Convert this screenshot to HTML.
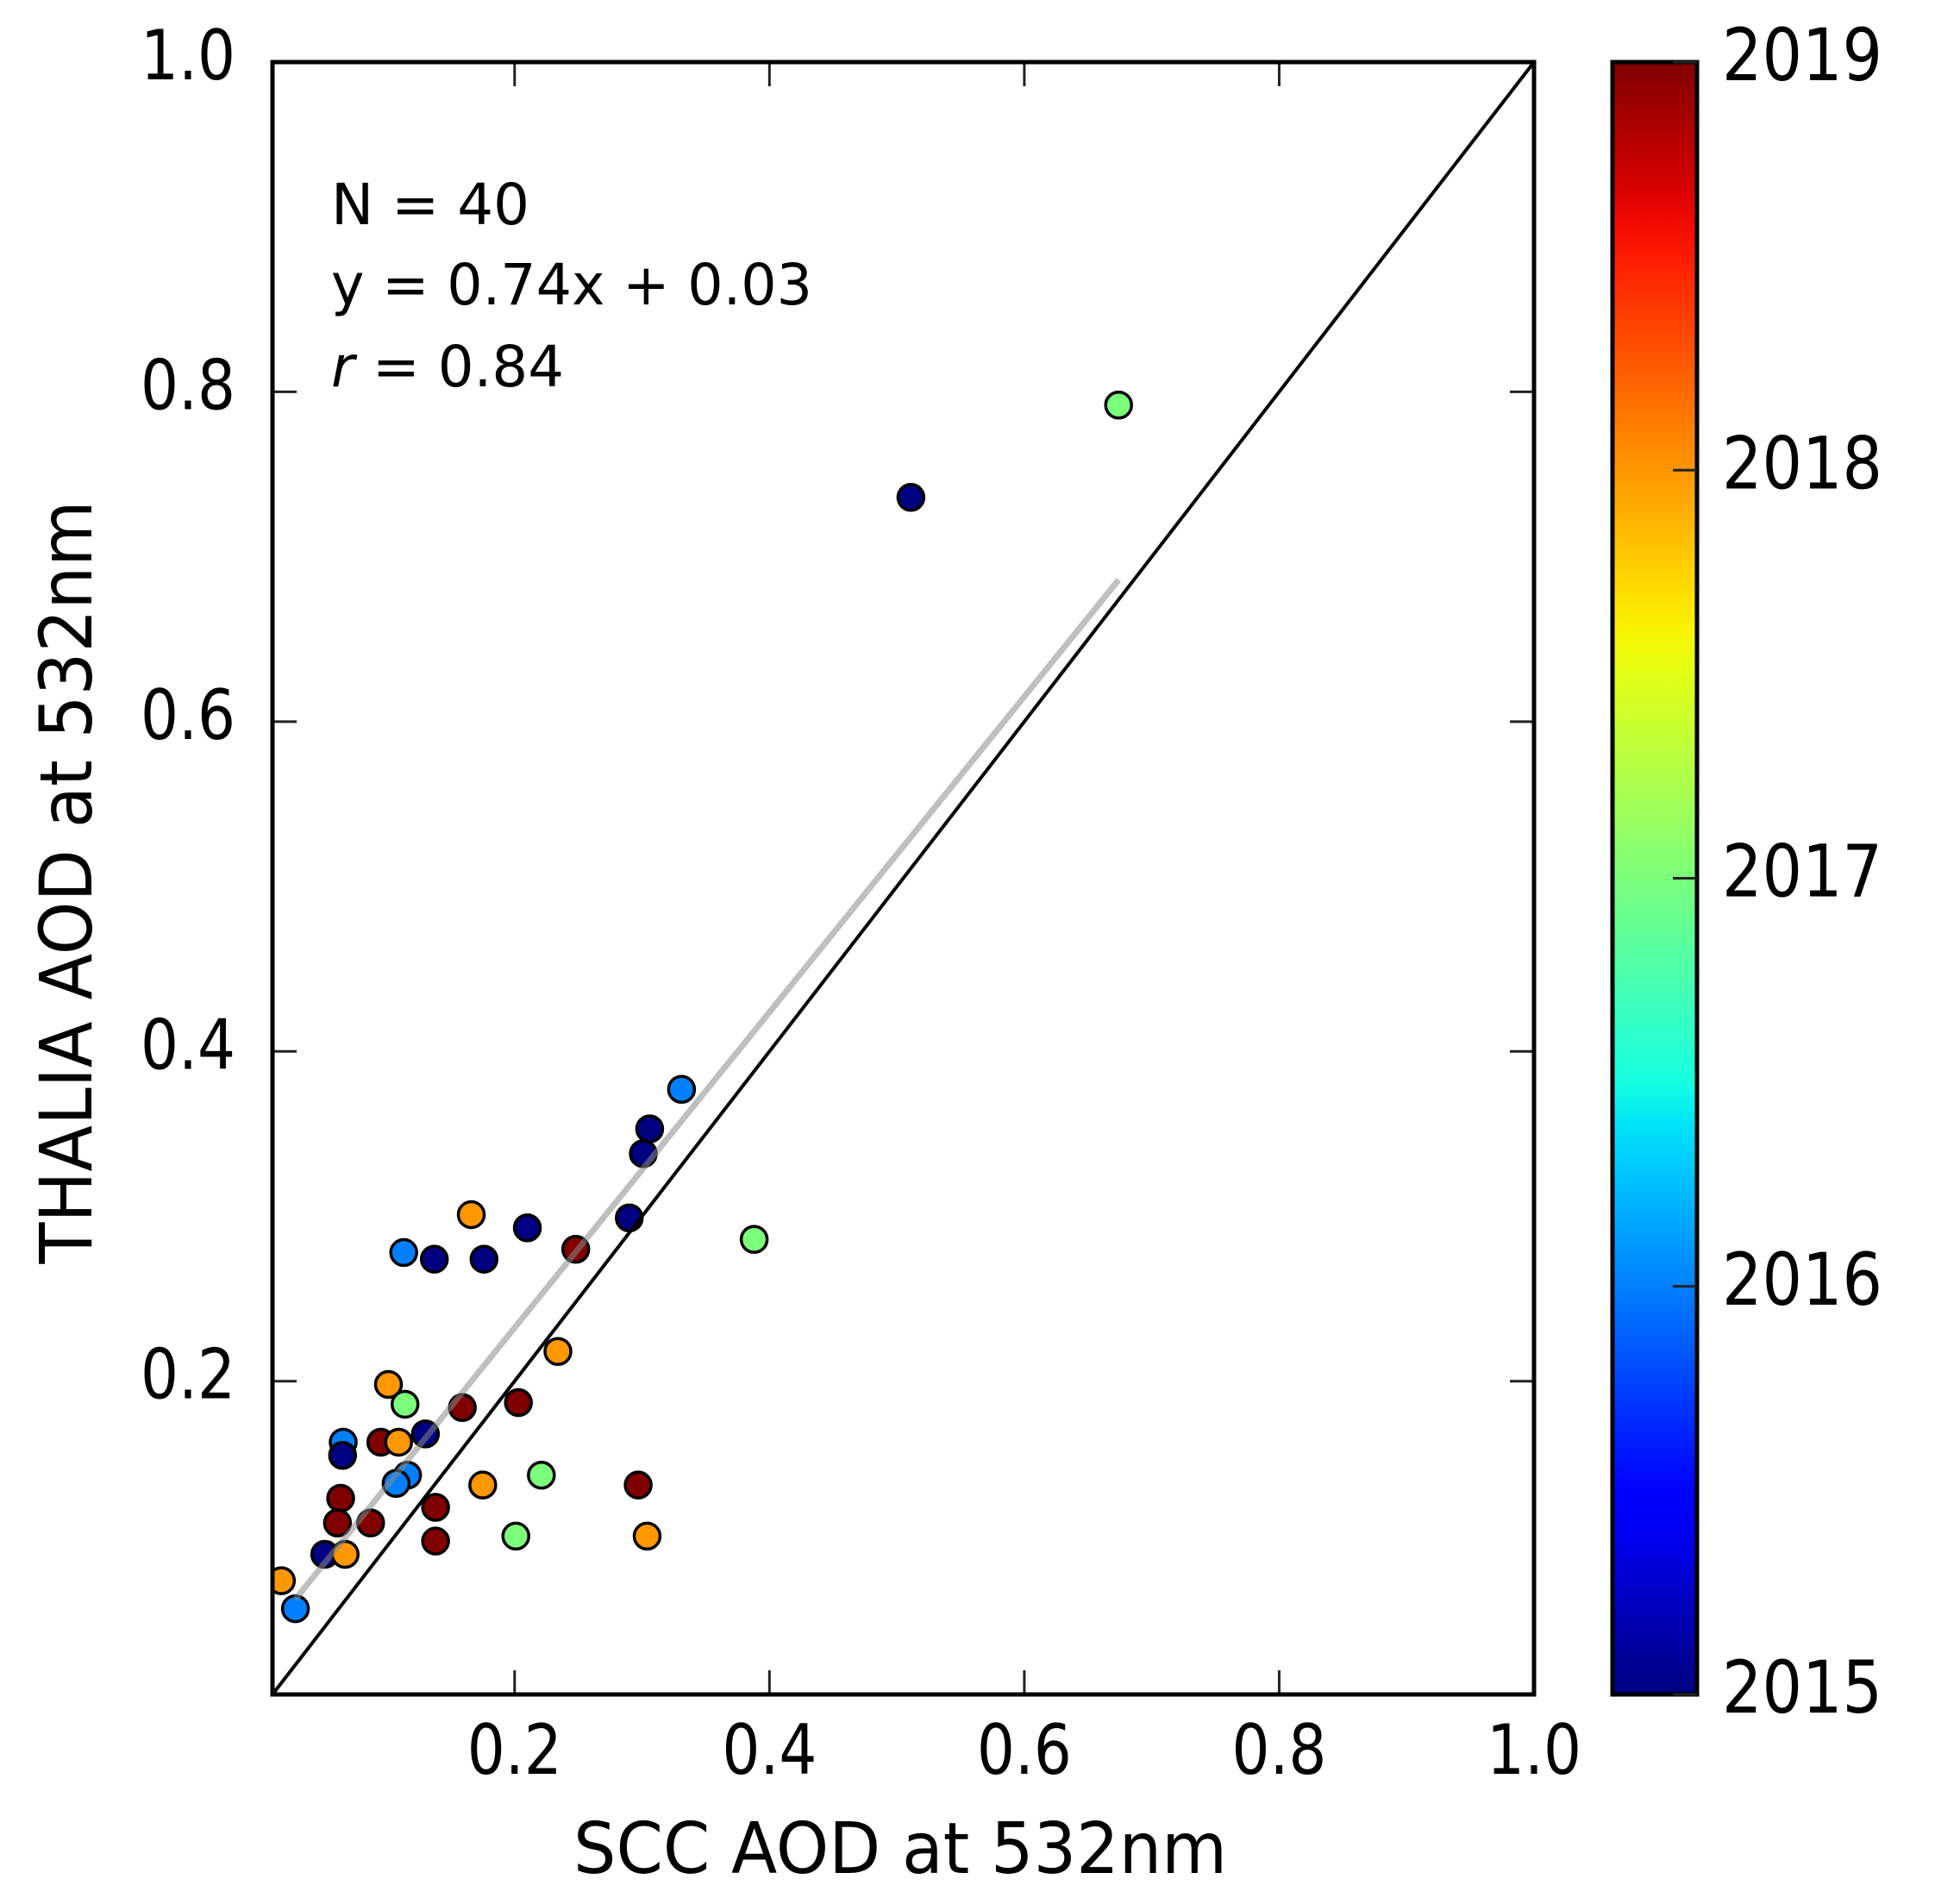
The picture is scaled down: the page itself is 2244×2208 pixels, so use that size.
<!DOCTYPE html>
<html><head><meta charset="utf-8"><style>
html,body{margin:0;padding:0;background:#fff;}
svg{display:block;}
text{font-family:"DejaVu Sans","Liberation Sans",sans-serif;fill:#000;}
</style></head><body>
<svg id="chart" xmlns="http://www.w3.org/2000/svg" width="2244" height="2208" viewBox="0 0 2244 2208">
<defs>
<linearGradient id="jetgrad" x1="0" y1="1" x2="0" y2="0"></linearGradient>
<clipPath id="plotclip"><rect x="316" y="72" width="1463" height="1893"/></clipPath>
</defs>
<g id="plot"></g>
<g id="annot">
<text x="384" y="260" font-size="66" textLength="230" lengthAdjust="spacingAndGlyphs">N = 40</text>
<text x="384" y="353" font-size="66" textLength="558" lengthAdjust="spacingAndGlyphs">y = 0.74x + 0.03</text>
<text x="384" y="448" font-size="66" textLength="270" lengthAdjust="spacingAndGlyphs"><tspan font-style="italic">r</tspan> = 0.84</text>
</g>
<text x="1044" y="2172" font-size="82" text-anchor="middle" textLength="758" lengthAdjust="spacingAndGlyphs">SCC AOD at 532nm</text>
<text transform="translate(106,1023) rotate(-90)" font-size="84" text-anchor="middle" textLength="885" lengthAdjust="spacingAndGlyphs">THALIA AOD at 532nm</text>
<g id="cbar"></g>
</svg>
<script>
// data
const sccAOD = [0.234,0.101,0.114,0.159,0.203,0.130,0.0655,0.065,0.095,0.109,0.116,0.107,0.175,0.221,0.297,0.0635,0.061,0.087,0.138,0.138,0.201,0.304,0.051,0.067,0.017,0.028,0.331,0.306,0.301,0.166,0.210,0.113,0.137,0.176,0.248,0.290,0.388,0.511,0.674];
const thaliaAOD = [0.218,0.198,0.186,0.184,0.187,0.168,0.163,0.155,0.163,0.163,0.143,0.138,0.137,0.143,0.137,0.129,0.114,0.114,0.1235,0.103,0.106,0.106,0.095,0.095,0.079,0.062,0.377,0.353,0.338,0.301,0.293,0.278,0.274,0.274,0.280,0.299,0.286,0.736,0.792];
const years = [2018,2018,2017,2019,2019,2015,2016,2015,2019,2018,2016,2016,2018,2017,2019,2019,2019,2019,2019,2019,2017,2018,2015,2018,2018,2016,2016,2015,2015,2018,2015,2016,2015,2015,2019,2015,2017,2015,2017];
const xTicks = [0.2,0.4,0.6,0.8,1.0];
const yTicks = [0.2,0.4,0.6,0.8,1.0];
const xTickLabels = ["0.2","0.4","0.6","0.8","1.0"];
const yTickLabels = ["0.2","0.4","0.6","0.8","1.0"];
const cbarTicks = [2015,2016,2017,2018,2019];
const cbarTickLabels = ["2015","2016","2017","2018","2019"];
const fitSlope = 0.957;
const fitIntercept = 0.041;
const fitRange = [0.028,0.674];
const axisMin = 0.01, axisMax = 1.0;
const yearMin = 2015, yearMax = 2019;

const NS = "http://www.w3.org/2000/svg";
const L = 316, T = 72, W = 1463, H = 1893;
function xs(v){ return L + (v - axisMin) / (axisMax - axisMin) * W; }
function ys(v){ return T + H - (v - axisMin) / (axisMax - axisMin) * H; }
function cy(y){ return T + H - (y - yearMin) / (yearMax - yearMin) * H; }
function interp(pts, t){
  for (let i = 1; i < pts.length; i++){
    if (t <= pts[i][0]){ const a = pts[i-1], b = pts[i]; return a[1] + (b[1]-a[1]) * (t - a[0]) / (b[0]-a[0]); }
  }
  return pts[pts.length-1][1];
}
function jet(t){
  const r = interp([[0,0],[0.35,0],[0.66,1],[0.89,1],[1,0.5]], t);
  const g = interp([[0,0],[0.125,0],[0.375,1],[0.64,1],[0.91,0],[1,0]], t);
  const b = interp([[0,0.5],[0.11,1],[0.34,1],[0.65,0],[1,0]], t);
  return "rgb(" + Math.round(r*255) + "," + Math.round(g*255) + "," + Math.round(b*255) + ")";
}
function mk(tag, attrs, parent){
  const e = document.createElementNS(NS, tag);
  for (const k in attrs) e.setAttribute(k, attrs[k]);
  parent.appendChild(e);
  return e;
}
const plot = document.getElementById("plot");
// scatter points
const ptsG = mk("g", {"clip-path":"url(#plotclip)"}, plot);


for (let i = 0; i < sccAOD.length; i++){
  const c = mk("circle", {cx: xs(sccAOD[i]), cy: ys(thaliaAOD[i]), r: 15, fill: jet((years[i]-yearMin)/(yearMax-yearMin)), stroke: "#000", "stroke-width": 3.5}, ptsG);
  
  
}
// fit line
const fit = mk("line", {x1: xs(fitRange[0]), y1: ys(fitSlope*fitRange[0]+fitIntercept), x2: xs(fitRange[1]), y2: ys(fitSlope*fitRange[1]+fitIntercept), stroke: "#8a8a8a", "stroke-opacity": 0.55, "stroke-width": 7}, plot);


// 1:1 line
const diag = mk("line", {x1: xs(axisMin), y1: ys(axisMin), x2: xs(axisMax), y2: ys(axisMax), stroke: "#000", "stroke-width": 4}, plot);


// ticks
const tickLen = 28;
xTicks.forEach((v, i) => {
  const x = xs(v);
  const t1 = mk("line", {x1: x, y1: T+H, x2: x, y2: T+H-tickLen, stroke: "#222", "stroke-width": 3}, plot);
  
  
  const t2 = mk("line", {x1: x, y1: T, x2: x, y2: T+tickLen, stroke: "#222", "stroke-width": 3}, plot);
  
  
  const lb = mk("text", {x: x, y: T+H+92, "font-size": 80, "text-anchor": "middle", textLength: 110, lengthAdjust: "spacingAndGlyphs"}, plot);
  lb.textContent = xTickLabels[i];
  
  
});
yTicks.forEach((v, i) => {
  const y = ys(v);
  const t1 = mk("line", {x1: L, y1: y, x2: L+tickLen, y2: y, stroke: "#222", "stroke-width": 3}, plot);
  
  
  const t2 = mk("line", {x1: L+W, y1: y, x2: L+W-tickLen, y2: y, stroke: "#222", "stroke-width": 3}, plot);
  
  
  const lb = mk("text", {x: 273, y: y+20, "font-size": 80, "text-anchor": "end", textLength: 110, lengthAdjust: "spacingAndGlyphs"}, plot);
  lb.textContent = yTickLabels[i];
  
  
});
// frame
const frame = mk("rect", {x: L, y: T, width: W, height: H, fill: "none", stroke: "#000", "stroke-width": 5}, plot);


// colorbar
const grad = document.getElementById("jetgrad");
for (let k = 0; k <= 40; k++){
  mk("stop", {offset: (k/40*100) + "%", "stop-color": jet(k/40)}, grad);
}
const cbar = document.getElementById("cbar");
const CX = 1870, CW = 98;
const cr = mk("rect", {x: CX, y: T, width: CW, height: H, fill: "url(#jetgrad)", stroke: "#000", "stroke-width": 5}, cbar);


cbarTicks.forEach((v, i) => {
  const y = cy(v);
  const t = mk("line", {x1: CX+CW, y1: y, x2: CX+CW-tickLen, y2: y, stroke: "#222", "stroke-width": 3}, cbar);
  
  
  const lb = mk("text", {x: 1997, y: y+21, "font-size": 84, textLength: 186, lengthAdjust: "spacingAndGlyphs"}, cbar);
  lb.textContent = cbarTickLabels[i];
  
  
});
</script>
</body></html>
